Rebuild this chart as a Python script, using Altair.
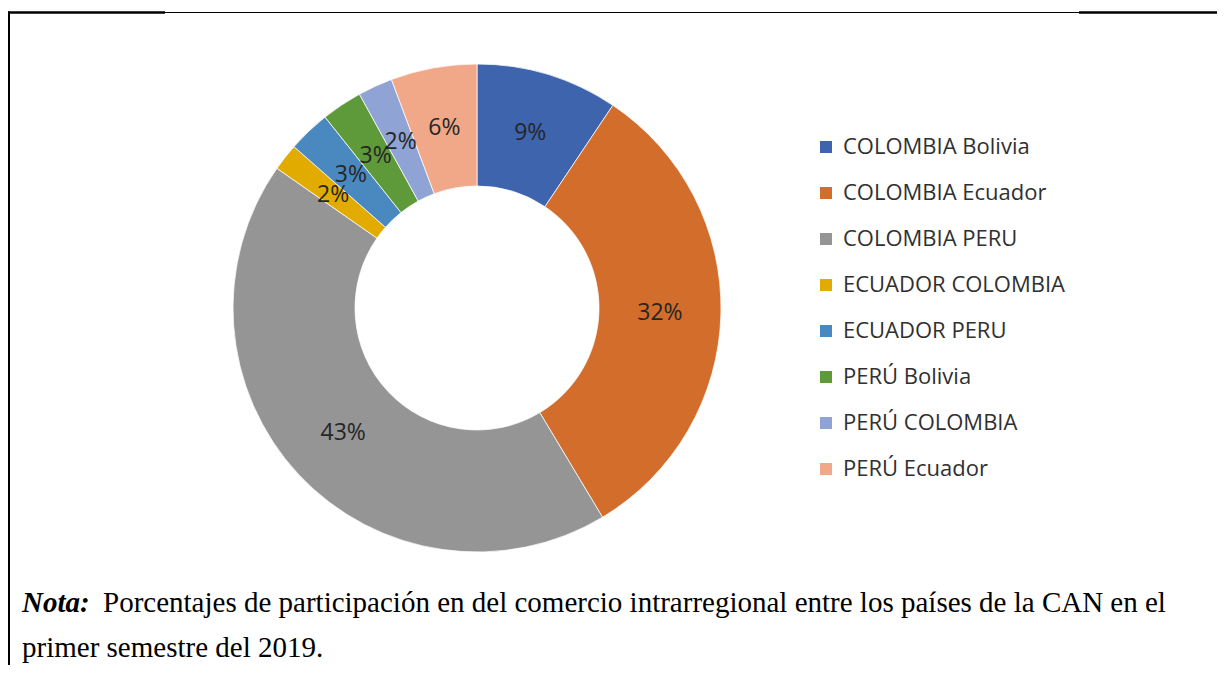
import altair as alt
import pandas as pd

categories = ["COLOMBIA Bolivia", "COLOMBIA Ecuador", "COLOMBIA PERU", "ECUADOR COLOMBIA",
              "ECUADOR PERU", "PERÚ Bolivia", "PERÚ COLOMBIA", "PERÚ Ecuador"]
shares = [9.4, 32.0, 43.3, 1.8, 2.8, 2.7, 2.3, 5.7]
labels = ["9%", "32%", "43%", "2%", "3%", "3%", "2%", "6%"]
colors = ["#3D64AC", "#D36D2B", "#959595", "#E2AB00", "#4A89C0", "#5F9A3A", "#8FA3D4", "#F0A888"]
note_lead = "Nota:"
note_line1 = "Porcentajes de participación en del comercio intrarregional entre los países de la CAN en el"
note_line2 = "primer semestre del 2019."

df = pd.DataFrame({"categoria": categories, "valor": shares, "etiqueta": labels,
                   "orden": list(range(len(categories)))})
one = pd.DataFrame({"k": [0]})

W, H = 1209, 657
CX, CY = 469, 300

theta = alt.Theta("valor:Q", stack=True)
order = alt.Order("orden:Q", sort="ascending")
color = alt.Color(
    "categoria:N",
    scale=alt.Scale(domain=categories, range=colors),
    sort=categories,
    legend=alt.Legend(title=None, orient="none", legendX=807, legendY=128,
                      symbolType="square", symbolSize=144, symbolStrokeWidth=0,
                      labelFont="Open Sans", labelFontSize=22, labelColor="#303030",
                      labelOffset=6, rowPadding=24, labelLimit=400),
)

arcs = alt.Chart(df).mark_arc(outerRadius=244, innerRadius=122, stroke="white",
                              strokeWidth=0.75).encode(
    theta=theta, order=order, color=color, x=alt.value(CX), y=alt.value(CY))

texts = alt.Chart(df).mark_text(radius=183, font="Open Sans", fontSize=23,
                                color="#262626").encode(
    theta=theta, order=order, text="etiqueta:N", x=alt.value(CX), y=alt.value(CY))

top_left = alt.Chart(one).mark_rule(color="black", strokeWidth=2.5).encode(
    x=alt.value(0), x2=alt.value(157), y=alt.value(4.5))
top_mid = alt.Chart(one).mark_rule(color="black", strokeWidth=1).encode(
    x=alt.value(157), x2=alt.value(1071), y=alt.value(4.5))
top_right = alt.Chart(one).mark_rule(color="black", strokeWidth=2.5).encode(
    x=alt.value(1071), x2=alt.value(1217), y=alt.value(4.5))
left_side = alt.Chart(one).mark_rule(color="black", strokeWidth=2).encode(
    x=alt.value(1), y=alt.value(3.5), y2=alt.value(H))

lead = alt.Chart(one).mark_text(font="Liberation Serif", fontSize=29, fontStyle="italic",
                                fontWeight="bold", align="left", baseline="alphabetic",
                                color="black").encode(
    x=alt.value(14), y=alt.value(604), text=alt.value(note_lead))
line1 = alt.Chart(one).mark_text(font="Liberation Serif", fontSize=29, align="left",
                                 baseline="alphabetic", color="black").encode(
    x=alt.value(95), y=alt.value(604), text=alt.value(note_line1))
line2 = alt.Chart(one).mark_text(font="Liberation Serif", fontSize=29, align="left",
                                 baseline="alphabetic", color="black").encode(
    x=alt.value(14), y=alt.value(649), text=alt.value(note_line2))

chart = alt.layer(arcs, texts, top_left, top_mid, top_right, left_side, lead, line1, line2).properties(
    width=W, height=H, padding=0, autosize=alt.AutoSizeParams(type="none"),
    background="white",
).configure_view(stroke=None)

chart.save("out.html", embed_options={"renderer": "svg", "actions": False})
